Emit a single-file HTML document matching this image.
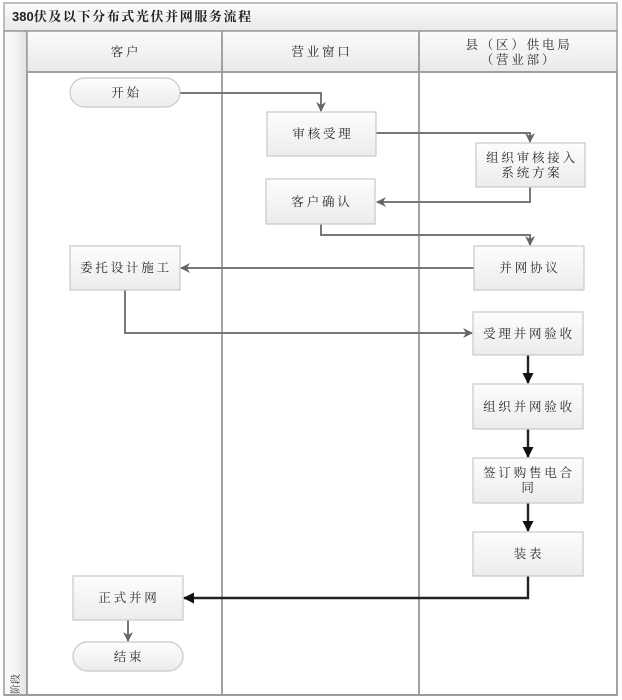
<!DOCTYPE html>
<html><head><meta charset="utf-8"><style>
html,body{margin:0;padding:0;background:#fff;}
svg{display:block;}
text{font-family:"Liberation Serif","Noto Serif CJK SC",serif;fill:#2a2a2a;}
.t{font-size:12.5px;letter-spacing:2.8px;text-anchor:middle;}
</style></head><body>
<svg width="622" height="700" viewBox="0 0 622 700" xmlns="http://www.w3.org/2000/svg">
<defs>
<linearGradient id="hg" x1="0" y1="0" x2="0" y2="1"><stop offset="0" stop-color="#fbfbfb"/><stop offset="1" stop-color="#e9e9e9"/></linearGradient>
<linearGradient id="bg" x1="0" y1="0" x2="0" y2="1"><stop offset="0" stop-color="#fdfdfd"/><stop offset="1" stop-color="#ececec"/></linearGradient>
<linearGradient id="pg" x1="0" y1="0" x2="1" y2="0"><stop offset="0" stop-color="#fafafa"/><stop offset="0.5" stop-color="#f4f4f4"/><stop offset="1" stop-color="#e2e2e2"/></linearGradient>
<marker id="ag" markerWidth="10" markerHeight="10" refX="9" refY="5" orient="auto" markerUnits="userSpaceOnUse"><path d="M0,0 L10,5 L0,10 L3,5 Z" fill="#666"/></marker>
<marker id="ad" markerWidth="11" markerHeight="11" refX="10" refY="5.5" orient="auto" markerUnits="userSpaceOnUse"><path d="M0,0 L11,5.5 L0,11 Z" fill="#111"/></marker>
</defs>
<!-- title band -->
<rect x="4" y="3" width="613" height="28" fill="url(#hg)" stroke="#aaa" stroke-width="1.5"/>
<text x="12" y="21" style="font-size:13px;font-weight:bold;letter-spacing:1.6px;fill:#222;"><tspan style="font-family:'Liberation Sans',sans-serif;letter-spacing:0">380</tspan>伏及以下分布式光伏并网服务流程</text>
<!-- phase column -->
<rect x="4" y="31" width="23" height="664" fill="url(#pg)" stroke="#999" stroke-width="1.5"/>
<!-- header -->
<rect x="27" y="31" width="590" height="41" fill="url(#hg)" stroke="#999" stroke-width="1.5"/>
<!-- lanes -->
<rect x="27" y="72" width="590" height="623" fill="#fff" stroke="#999" stroke-width="1.8"/>
<line x1="222" y1="31" x2="222" y2="695" stroke="#999" stroke-width="1.8"/>
<line x1="419" y1="31" x2="419" y2="695" stroke="#999" stroke-width="1.8"/>
<line x1="4" y1="695" x2="617" y2="695" stroke="#999" stroke-width="1.8"/>
<text class="t" x="126" y="56">客户</text>
<text class="t" x="322" y="56">营业窗口</text>
<text class="t" x="519" y="49">县（区）供电局</text>
<text class="t" x="519" y="64">（营业部）</text>
<text transform="translate(19,684) rotate(-90)" style="font-size:10px;text-anchor:middle;fill:#333;">阶段</text>

<!-- connectors gray -->
<g fill="none" stroke="#777" stroke-width="2">
<path d="M180,93 H321 V111" marker-end="url(#ag)"/>
<path d="M376,133 H530 V142" marker-end="url(#ag)"/>
<path d="M530,187 V202 H377" marker-end="url(#ag)"/>
<path d="M321,224 V235 H530 V245" marker-end="url(#ag)"/>
<path d="M474,268 H181" marker-end="url(#ag)"/>
<path d="M125,290 V333 H472" marker-end="url(#ag)"/>
<path d="M128,620 V641" marker-end="url(#ag)"/>
</g>
<g fill="none" stroke="#222" stroke-width="2.4">
<path d="M528,355 V383" marker-end="url(#ad)"/>
<path d="M528,429 V457" marker-end="url(#ad)"/>
<path d="M528,503 V531" marker-end="url(#ad)"/>
<path d="M528,576 V598 H184" marker-end="url(#ad)"/>
</g>

<!-- nodes -->
<g stroke="#c8c8c8" stroke-width="1.2" fill="url(#bg)">
<rect x="70" y="78" width="110" height="29" rx="14.5"/>
<rect x="267" y="112" width="109" height="44"/>
<rect x="476" y="143" width="109" height="44"/>
<rect x="266" y="179" width="109" height="45"/>
<rect x="474" y="246" width="110" height="44"/>
<rect x="70" y="246" width="110" height="44"/>
<rect x="473" y="312" width="110" height="43"/>
<rect x="473" y="384" width="110" height="45"/>
<rect x="473" y="458" width="110" height="45"/>
<rect x="473" y="532" width="110" height="44"/>
<rect x="73" y="576" width="110" height="44"/>
<rect x="73" y="642" width="110" height="29" rx="14.5"/>
</g>
<text class="t" x="126.5" y="97">开始</text>
<text class="t" x="323" y="138">审核受理</text>
<text class="t" x="532" y="162">组织审核接入</text>
<text class="t" x="532" y="177">系统方案</text>
<text class="t" x="322" y="206">客户确认</text>
<text class="t" x="530" y="272">并网协议</text>
<text class="t" x="126" y="272">委托设计施工</text>
<text class="t" x="529" y="338">受理并网验收</text>
<text class="t" x="529" y="411">组织并网验收</text>
<text class="t" x="529" y="477">签订购售电合</text>
<text class="t" x="529" y="492">同</text>
<text class="t" x="529" y="558">装表</text>
<text class="t" x="129" y="602">正式并网</text>
<text class="t" x="129" y="661">结束</text>
</svg>
</body></html>
